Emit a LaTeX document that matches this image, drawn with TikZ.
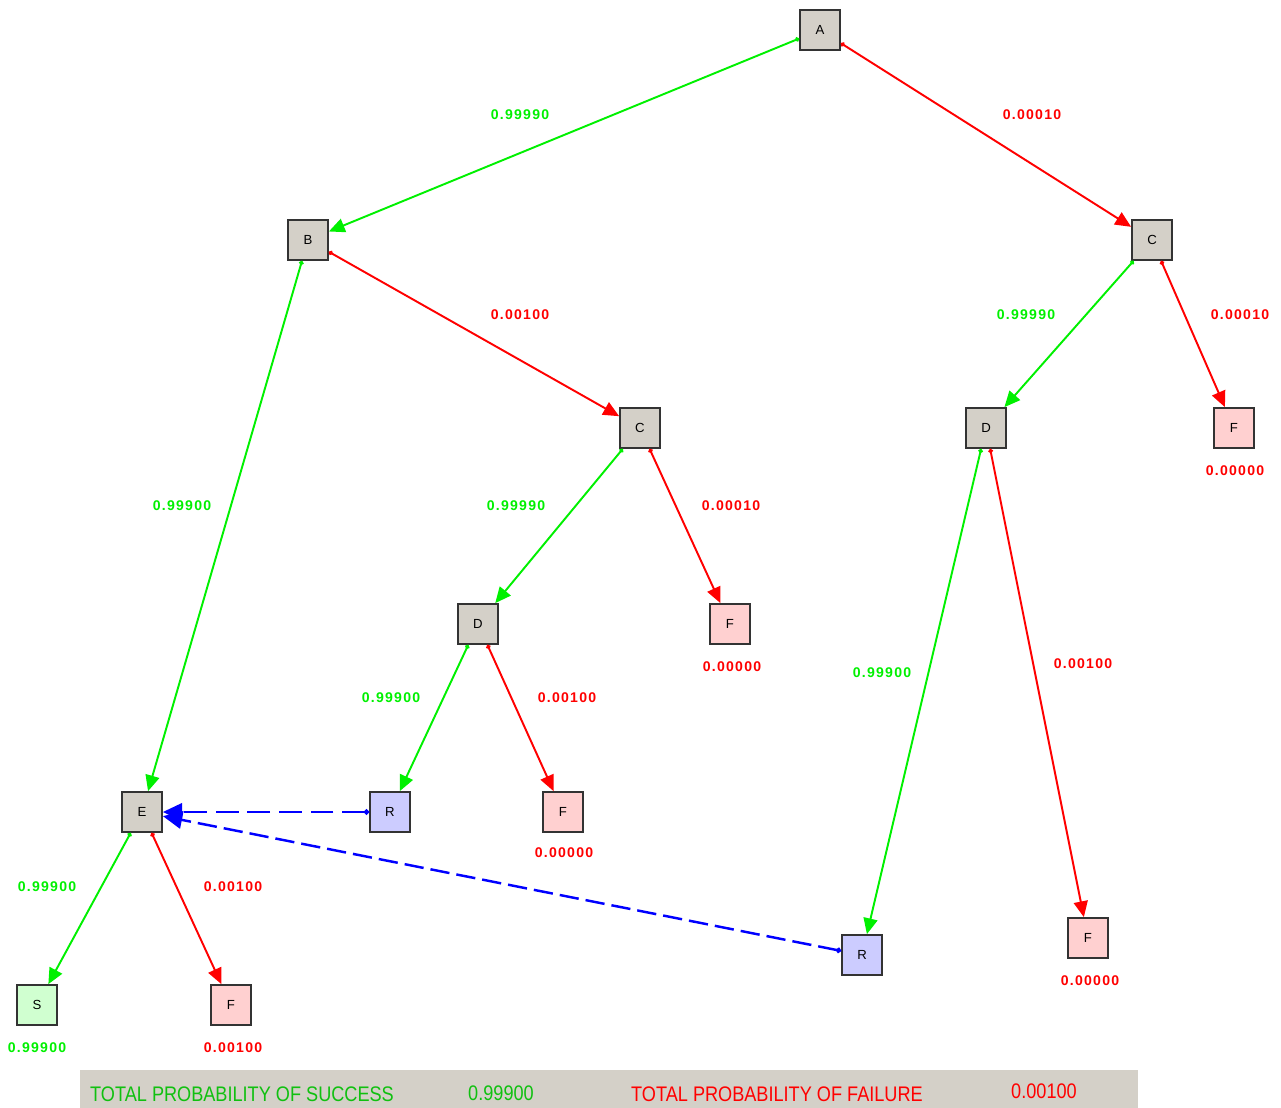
\documentclass[tikz,border=0pt]{standalone}
\usepackage{fontspec}
\setmainfont{Liberation Sans}
\newfontfamily\barfont[FakeStretch=0.86]{Liberation Sans}
\newfontfamily\probfont[LetterSpace=9]{Liberation Sans}
\usetikzlibrary{arrows.meta}

\definecolor{evgray}{HTML}{D4D0C8}
\definecolor{failfill}{HTML}{FFD0D0}
\definecolor{okfill}{HTML}{D0FFD0}
\definecolor{repfill}{HTML}{CCCCFF}
\definecolor{okgreen}{HTML}{00F000}
\definecolor{bargreen}{HTML}{10C010}

\tikzset{
  evbox/.style={draw=black!80, line width=1pt, fill=evgray, minimum size=0.8cm,
    inner sep=0pt, font=\fontsize{7.5}{8}\selectfont},
  failbox/.style={evbox, fill=failfill},
  okbox/.style={evbox, fill=okfill},
  repbox/.style={evbox, fill=repfill},
  okedge/.style={draw=okgreen, line width=1.1pt,
    {Circle[length=2.5pt]}-{Triangle[length=9pt,width=8pt]}},
  failedge/.style={okedge, draw=red},
  backedge/.style={draw=blue, line width=1.4pt, dash pattern=on 13pt off 5pt,
    {Circle[length=3pt]}-{Triangle[length=11pt,width=10pt]}},
  prob/.style={font=\probfont\bfseries\fontsize{8}{9}\selectfont},
  okprob/.style={prob, text=okgreen},
  failprob/.style={prob, text=red},
}

\begin{document}
\begin{tikzpicture}[x=0.02cm, y=-0.02cm]
  \useasboundingbox (0,0) rectangle (1281,1108);

  \node[evbox] (a) at (820,30) {A};
  \node[evbox] (b) at (308,240) {B};
  \node[evbox] (c1) at (1152,240) {C};
  \node[evbox] (c2) at (640,428) {C};
  \node[evbox] (d1) at (986,428) {D};
  \node[failbox] (f1) at (1234,428) {F};
  \node[evbox] (d2) at (478,624) {D};
  \node[failbox] (f2) at (730,624) {F};
  \node[evbox] (e) at (142,812) {E};
  \node[repbox] (r1) at (390,812) {R};
  \node[failbox] (f3) at (563,812) {F};
  \node[repbox] (r2) at (862,955) {R};
  \node[failbox] (f4) at (1088,938) {F};
  \node[okbox] (s) at (37,1005) {S};
  \node[failbox] (f5) at (231,1005) {F};

  \draw[okedge] (a) -- (b);
  \draw[failedge] (a) -- (c1);
  \draw[okedge] (b) -- (e);
  \draw[failedge] (b) -- (c2);
  \draw[okedge] (c1) -- (d1);
  \draw[failedge] (c1) -- (f1);
  \draw[okedge] (c2) -- (d2);
  \draw[failedge] (c2) -- (f2);
  \draw[okedge] (d1) -- (r2);
  \draw[failedge] (d1) -- (f4);
  \draw[okedge] (d2) -- (r1);
  \draw[failedge] (d2) -- (f3);
  \draw[okedge] (e) -- (s);
  \draw[failedge] (e) -- (f5);
  \draw[backedge] (r1) -- (e);
  \draw[backedge, dash pattern=on 11pt off 4pt] (r2) -- (e);

  \node[okprob] at (520,115) {0.99990};
  \node[failprob] at (1032,115) {0.00010};
  \node[failprob] at (520,315) {0.00100};
  \node[okprob] at (182,506) {0.99900};
  \node[okprob] at (1026,315) {0.99990};
  \node[failprob] at (1240,315) {0.00010};
  \node[failprob] at (1235,471) {0.00000};
  \node[okprob] at (516,506) {0.99990};
  \node[failprob] at (731,506) {0.00010};
  \node[failprob] at (732,667) {0.00000};
  \node[okprob] at (882,673) {0.99900};
  \node[failprob] at (1083,664) {0.00100};
  \node[okprob] at (391,698) {0.99900};
  \node[failprob] at (567,698) {0.00100};
  \node[failprob] at (564,853) {0.00000};
  \node[failprob] at (1090,981) {0.00000};
  \node[okprob] at (47,887) {0.99900};
  \node[failprob] at (233,887) {0.00100};
  \node[okprob] at (37,1048) {0.99900};
  \node[failprob] at (233,1048) {0.00100};

  \fill[evgray] (80,1070) rectangle (1138,1108);
  \begin{scope}[font=\barfont\fontsize{12}{13}\selectfont]
    \node[text=bargreen, anchor=west] (succlbl) at (84,1094) {TOTAL PROBABILITY OF SUCCESS};
    \node[text=bargreen] (succval) at (501,1093) {0.99900};
    \node[text=red, anchor=west] (faillbl) at (625,1094) {TOTAL PROBABILITY OF FAILURE};
    \node[text=red] (failval) at (1044,1091) {0.00100};
  \end{scope}
\end{tikzpicture}
\end{document}
